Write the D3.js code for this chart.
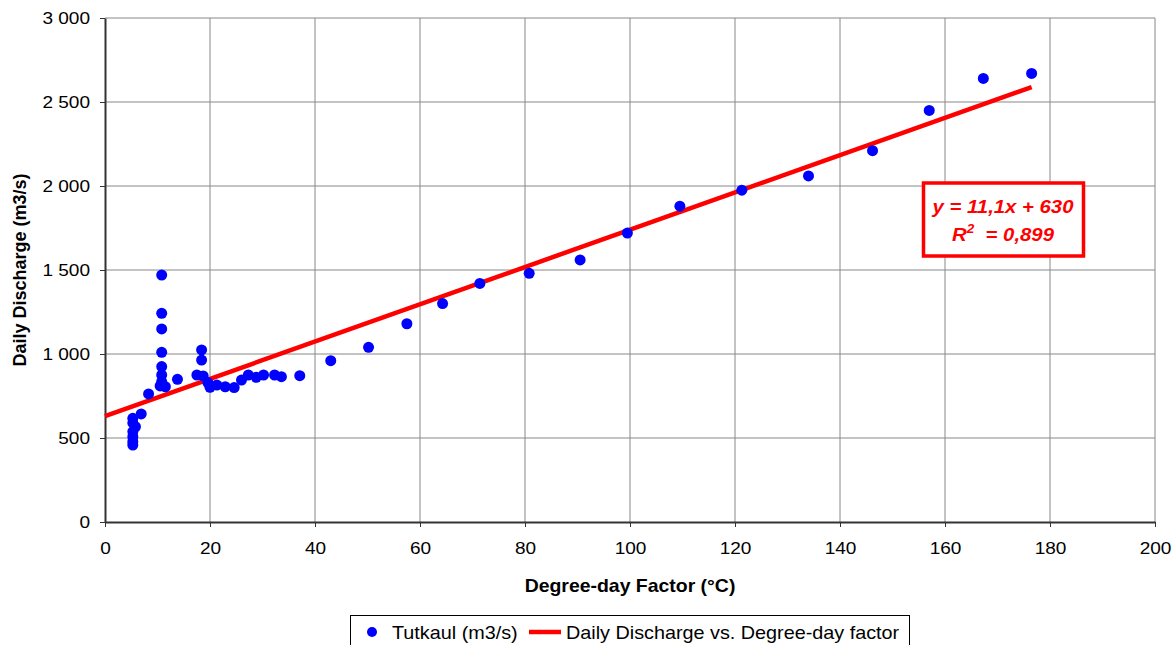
<!DOCTYPE html>
<html><head><meta charset="utf-8">
<script src="https://cdn.jsdelivr.net/npm/d3@7"></script>
<style>body{margin:0;background:#fff;} svg{display:block;font-family:"Liberation Sans",Arial,sans-serif;}</style>
</head><body>
<svg id="c" width="1175" height="645"></svg>
<script>
const xVals = [5.3,5.3,5.3,5.3,5.3,5.8,5.3,6.9,8.3,10.8,10.8,10.8,10.8,10.8,10.8,10.8,10.5,11.5,13.8,17.5,18.4,18.4,18.7,19.6,20.0,21.3,22.9,24.6,26.0,27.3,28.8,30.2,32.3,33.6,37.1,43.0,50.2,57.5,64.3,71.4,80.8,90.5,99.5,109.5,121.3,134.0,146.2,157.0,167.3,176.5];
const yVals = [458,478,508,538,617,567,590,643,762,1470,1242,1149,1010,925,875,835,810,805,849,875,1024,964,869,830,802,815,805,800,845,875,861,875,875,865,871,960,1040,1180,1300,1420,1480,1560,1720,1880,1975,2060,2210,2450,2640,2670];
const xTicks = [0,20,40,60,80,100,120,140,160,180,200];
const yTicks = [0,500,1000,1500,2000,2500,3000];
const slope = 11.1, intercept = 630;
const fitRange = [0, 176.5];
const eqLines = ["y = 11,1x + 630", "R", "2", "= 0,899"];
const legendLabels = ["Tutkaul (m3/s)", "Daily Discharge vs. Degree-day factor"];

const svg = d3.select("#c");
const x = d3.scaleLinear().domain([0,200]).range([105,1155]);
const y = d3.scaleLinear().domain([0,3000]).range([522,18]);
const fmt = v => d3.format(",")(v).replace(/,/g, " ");

// stretch helper: horizontal scale around the text's own anchor
function stretch(sel, sx) {
  sel.each(function() {
    const t = d3.select(this);
    const tx = +t.attr("x") || 0, ty = +t.attr("y") || 0;
    t.attr("x", 0).attr("y", 0).attr("transform", `translate(${tx},${ty}) scale(${sx},1)`);
  });
}

// gridlines
svg.append("g").selectAll("line").data(xTicks.slice(1)).join("line")
  .attr("x1", d=>x(d)).attr("x2", d=>x(d)).attr("y1", y(0)).attr("y2", y(3000))
  .attr("stroke", "#888").attr("stroke-width", 1);
svg.append("g").selectAll("line").data(yTicks.slice(1)).join("line")
  .attr("x1", x(0)).attr("x2", x(200)).attr("y1", d=>y(d)).attr("y2", d=>y(d))
  .attr("stroke", "#888").attr("stroke-width", 1);

// axes
const xa = svg.append("g").attr("transform", `translate(0,${y(0)})`)
  .call(d3.axisBottom(x).tickValues(xTicks).tickSize(5).tickPadding(15).tickSizeOuter(0));
const ya = svg.append("g").attr("transform", `translate(${x(0)},0)`)
  .call(d3.axisLeft(y).tickValues(yTicks).tickFormat(fmt).tickSize(5).tickPadding(10).tickSizeOuter(0));
[xa, ya].forEach(a => {
  a.selectAll("text").attr("font-size", 17).attr("fill", "#000").attr("font-family", "Liberation Sans, Arial, sans-serif");
  stretch(a.selectAll("text"), 1.12);
  a.select(".domain").attr("stroke", "#333").attr("stroke-width", 2);
  a.selectAll(".tick line").attr("stroke", "#333");
});

// axis titles
const xt = svg.append("text").attr("x", 630).attr("y", 592).attr("text-anchor", "middle")
  .attr("font-size", 18).attr("font-weight", "bold").text("Degree-day Factor (°C)");
stretch(xt, 1.08);
svg.append("text").attr("transform", `translate(26,270) rotate(-90)`).attr("text-anchor", "middle")
  .attr("font-size", 18).attr("font-weight", "bold").text("Daily Discharge (m3/s)");

// trend line
svg.append("line")
  .attr("x1", x(fitRange[0])).attr("y1", y(slope*fitRange[0]+intercept))
  .attr("x2", x(fitRange[1])).attr("y2", y(slope*fitRange[1]+intercept))
  .attr("stroke", "#ff0000").attr("stroke-width", 4.5);

// points
svg.append("g").selectAll("circle").data(xVals.map((v,i)=>[v,yVals[i]])).join("circle")
  .attr("cx", d=>x(d[0])).attr("cy", d=>y(d[1])).attr("r", 5.5).attr("fill", "#0000ff");

// equation box
const eq = svg.append("g");
eq.append("rect").attr("x", 923.5).attr("y", 183).attr("width", 160).attr("height", 73)
  .attr("fill", "#fff").attr("stroke", "#ff0000").attr("stroke-width", 3.5);
const t1 = eq.append("text").attr("x", 1003).attr("y", 213).attr("text-anchor", "middle")
  .attr("font-size", 18).attr("font-weight", "bold").attr("font-style", "italic").attr("fill", "#ff0000")
  .text(eqLines[0]);
stretch(t1, 1.13);
const t2 = eq.append("text").attr("x", 1003).attr("y", 241).attr("text-anchor", "middle")
  .attr("font-size", 18).attr("font-weight", "bold").attr("font-style", "italic").attr("fill", "#ff0000");
t2.append("tspan").text(eqLines[1]);
t2.append("tspan").attr("dy", -8).attr("font-size", 12).text(eqLines[2]);
t2.append("tspan").attr("dy", 8).text("\u00a0\u00a0" + eqLines[3]);
stretch(t2, 1.13);

// legend
const lg = svg.append("g");
lg.append("rect").attr("x", 350.5).attr("y", 615.5).attr("width", 559).attr("height", 40)
  .attr("fill", "#fff").attr("stroke", "#000").attr("stroke-width", 1);
lg.append("circle").attr("cx", 372).attr("cy", 632).attr("r", 5).attr("fill", "#0000ff");
const l1 = lg.append("text").attr("x", 392).attr("y", 639).attr("font-size", 18).text(legendLabels[0]);
stretch(l1, 1.1);
lg.append("line").attr("x1", 529).attr("x2", 561).attr("y1", 632).attr("y2", 632)
  .attr("stroke", "#ff0000").attr("stroke-width", 4.5);
const l2 = lg.append("text").attr("x", 566).attr("y", 639).attr("font-size", 18).text(legendLabels[1]);
stretch(l2, 1.1);
</script>
</body></html>
